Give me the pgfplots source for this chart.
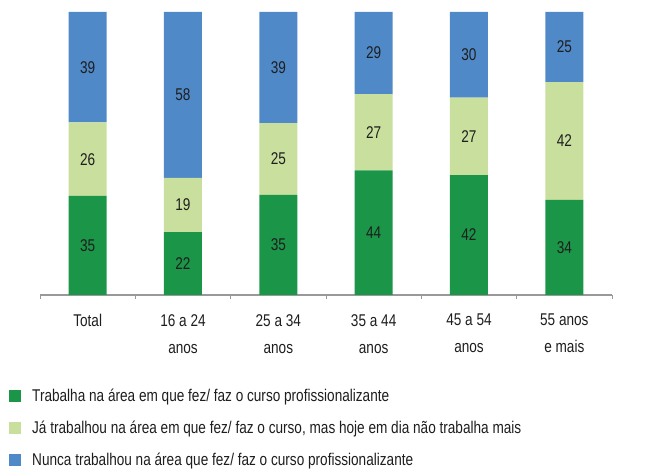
\documentclass[border=0pt]{standalone}
\usepackage{fontspec}
\setmainfont[FakeStretch=0.8]{Liberation Sans}
\usepackage{pgfplots}
\usepackage{pgfplotstable}
\pgfplotsset{compat=1.18}
\definecolor{cA}{RGB}{27,150,72}
\definecolor{cB}{RGB}{200,223,158}
\definecolor{cC}{RGB}{80,137,200}
\definecolor{txt}{RGB}{30,30,30}
\pgfplotstableread{
x a b c la lb lc
0 35 26 39 35 26 39
1 22.2 19.2 58.6 22 19 58
2 35.4 25.3 39.3 35 25 39
3 44 27 29 44 27 29
4 42.4 27.3 30.3 42 27 30
5 33.6 41.6 24.8 34 42 25
}\data
\begin{document}
\begin{tikzpicture}
\useasboundingbox (-40pt,-175pt) rectangle (617pt,295pt);
\begin{axis}[
  scale only axis, width=572pt, height=283pt,
  anchor=south west, at={(0pt,0pt)},
  ybar stacked, bar width=38pt,
  xmin=-0.5, xmax=5.5, ymin=0, ymax=100,
  axis y line=none, axis x line*=bottom,
  x axis line style={draw=black!40, line width=1.3pt, -},
  xtick={0,...,5}, major tick length=0pt,
  minor xtick={-0.5,0.5,...,5.5}, minor tick length=4pt,
  every minor tick/.style={draw=black!40, line width=0.8pt},
  tick align=outside,
  xticklabels={Total,16 a 24\\anos,25 a 34\\anos,35 a 44\\anos,45 a 54\\anos,55 anos\\e mais},
  xticklabel style={align=center, font=\fontsize{17}{27}\selectfont, text=txt, anchor=north, inner sep=0pt, yshift=-19pt},
  clip=false,
  point meta=explicit symbolic,
  nodes near coords,
  every node near coord/.append style={font=\fontsize{17}{20}\selectfont, text=txt, anchor=center},
  legend style={at={(0,0)}, anchor=north west, xshift=-31pt, yshift=-94pt, draw=none, fill=none,
    font=\fontsize{17}{20}\selectfont, text=txt, row sep=18pt, inner sep=0pt,
    nodes={inner sep=0pt, anchor=west}},
  legend cell align=left,
  /tikz/every odd column/.append style={column sep=11pt},
  legend image code/.code={\fill[#1] (0pt,-6pt) rectangle (12pt,6pt);},
]
\addplot[fill=cA, draw=none] table[x=x, y=a, meta=la] {\data};
\addplot[fill=cB, draw=none] table[x=x, y=b, meta=lb] {\data};
\addplot[fill=cC, draw=none] table[x=x, y=c, meta=lc] {\data};
\legend{Trabalha na área em que fez/ faz o curso profissionalizante,
Já trabalhou na área em que fez/ faz o curso{,} mas hoje em dia não trabalha mais,
Nunca trabalhou na área que fez/ faz o curso profissionalizante}
\end{axis}
\end{tikzpicture}
\end{document}
